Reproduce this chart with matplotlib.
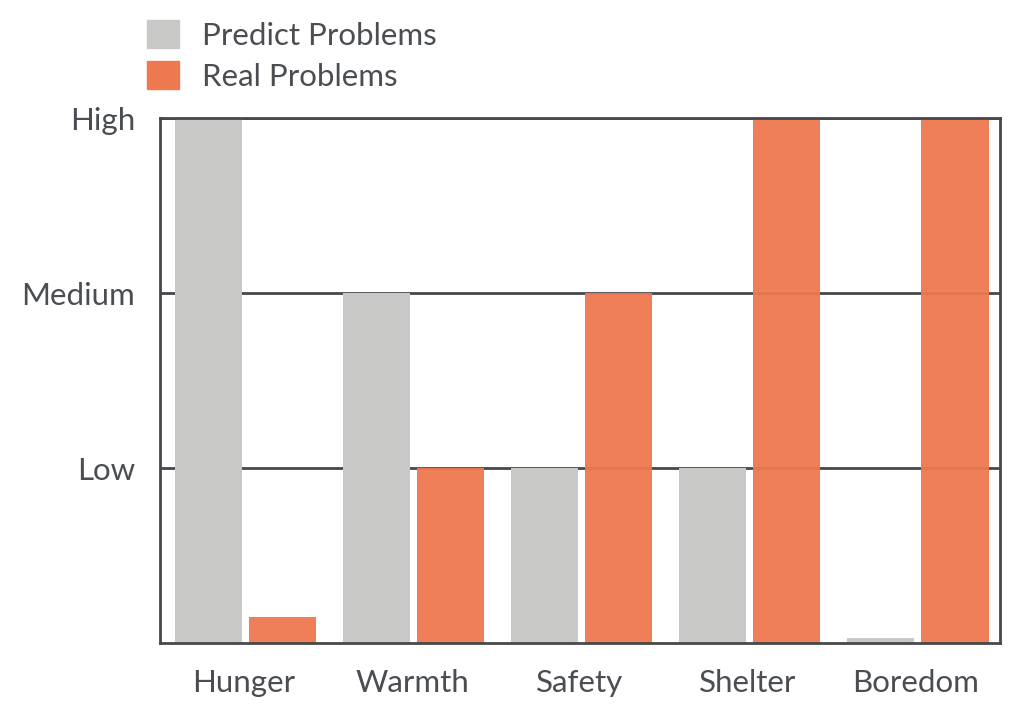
import numpy as np
import matplotlib.pyplot as plt
from matplotlib.patches import Patch

categories = ["Hunger", "Warmth", "Safety", "Shelter", "Boredom"]
predict = [3.0, 2.0, 1.0, 1.0, 0.03]
real = [0.15, 1.0, 2.0, 3.0, 3.0]
level_ticks = [1, 2, 3]
level_labels = ["Low", "Medium", "High"]

gray = "#c8c8c6"
orange = "#ee7850"
dark = "#45484c"
text_col = "#4a4d52"

plt.rcParams["font.family"] = ["Lato", "DejaVu Sans"]

fig = plt.figure(figsize=(10.17, 7.08), dpi=100)
ax = fig.add_axes([0.1573, 0.0918, 0.826, 0.7415])

x = np.arange(len(categories))
w = 0.399
ax.bar(x - 0.211, predict, width=w, color=gray, zorder=3)
ax.bar(x + 0.232, real, width=w, color=orange, alpha=0.95, zorder=3)

ax.set_xlim(-0.5, len(categories) - 0.5)
ax.set_ylim(0, 3)
ax.set_xticks(x)
ax.set_xticklabels(categories)
ax.set_yticks(level_ticks)
ax.set_yticklabels(level_labels)
ax.tick_params(length=0, labelsize=22.5, colors=text_col)
ax.tick_params(axis="y", pad=18)
ax.tick_params(axis="x", pad=19)

ax.yaxis.grid(True, color=dark, linewidth=2, zorder=2)
ax.set_axisbelow(True)
for s in ax.spines.values():
    s.set_color(dark)
    s.set_linewidth(2)
    s.set_zorder(4)

handles = [Patch(color=gray, label="Predict Problems"),
           Patch(color=orange, label="Real Problems")]
leg = fig.legend(handles=handles, loc="upper left",
                 bbox_to_anchor=(0.1445, 0.972), frameon=False,
                 fontsize=22.5, handlelength=1.03, handleheight=1.03,
                 handletextpad=0.72, labelspacing=0.35, borderaxespad=0,
                 borderpad=0)
for t in leg.get_texts():
    t.set_color(text_col)

fig.savefig("out.png", dpi=100)
